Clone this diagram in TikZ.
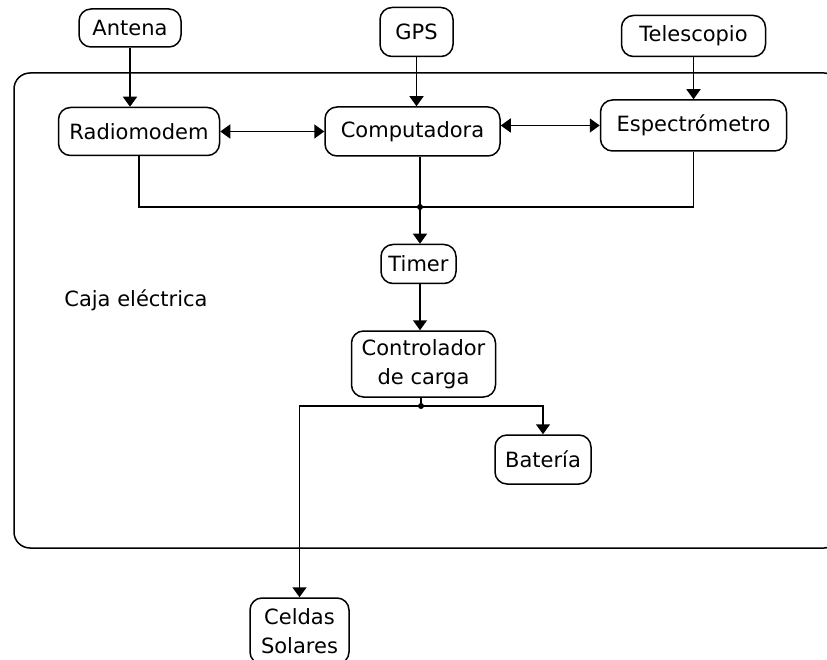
\documentclass[tikz,border=0pt]{standalone}
\usepackage{fontspec}
\setmainfont{DejaVu Sans}
\usepackage{tikz}
\usetikzlibrary{arrows.meta}
\usetikzlibrary{positioning,calc}
\tikzset{
	every node/.style={font=\fontsize{21}{29}\selectfont}
}
\tikzset{
	>={Triangle[width=14pt,length=10pt]},
	block/.style={rectangle,rounded corners=12pt,draw,align=center,inner sep=2pt},
	junction/.style={circle,fill,inner sep=0pt,minimum size=6pt}
}

\begin{document}
\begin{tikzpicture}[x=1pt,y=-1pt,line width=1.5pt]
      \useasboundingbox (0,0) rectangle (827,660);
      \clip (0,0) rectangle (827,660);
      \draw[rounded corners=16pt] (14,73) rectangle (840,548);
      \node (caja) at (136,300) {Caja eléctrica};
      \node[block, minimum width=175pt, minimum height=49pt] (Computadora) at (412.5,131.5) {Computadora};
      \node[block, minimum width=161pt, minimum height=48pt] (Radiomodem) [left = 104pt of Computadora] {Radiomodem};
      \node[block, minimum width=186pt, minimum height=51pt] (Espectrometro) [right = 99pt of Computadora, yshift=6pt] {Espectrómetro};
      \node[block, minimum width=102pt, minimum height=38pt] (Antena) at (130,28) {Antena};
      \node[block, minimum width=73pt, minimum height=49pt] (GPS) [above = 49pt of Computadora, xshift=4pt] {GPS};
      \node[block, minimum width=144pt, minimum height=41pt] (Telescopio) [above = 42pt of Espectrometro] {Telescopio};
      \node[block, minimum width=75pt, minimum height=39pt] (Timer) [below = 87pt of Computadora, xshift=6pt] {Timer};
      \node[block, minimum width=144pt, minimum height=66pt] (Controlador) [below = 46pt of Timer, xshift=5pt] {Controlador\\de carga};
      \node[block, minimum width=96pt, minimum height=49pt] (Bateria) at (543,459.5) {Batería};
      \node[block, minimum width=99pt, minimum height=66pt] (Celdas) at (299.5,631) {Celdas\\Solares};
      \coordinate (bus) at (420,207);
      \coordinate (split) at (421,406);
      \draw[->] (Antena) -- (Radiomodem.north -| Antena);
      \draw[->] (GPS) -- (Computadora.north -| GPS);
      \draw[->] (Telescopio) -- (Espectrometro);
      \draw[<->] (Radiomodem.east) -- (Radiomodem.east -| Computadora.west);
      \draw[<->] (Espectrometro.west -| Computadora.east) -- (Espectrometro.west);
      \draw (Radiomodem.south) |- (bus) -| (Espectrometro.south);
      \draw (Computadora.south -| bus) -- (bus);
      \draw[->] (bus) -- (bus |- Timer.north);
      \draw[->] (Timer.south -| bus) -- (bus |- Controlador.north);
      \draw (Controlador.south -| split) -- (split);
      \draw[->] (split) -| (Celdas.north);
      \draw[->] (split) -| (Bateria.north);
      \node[junction] at (bus) {};
      \node[junction] at (split) {};
    \end{tikzpicture}
\end{document}
